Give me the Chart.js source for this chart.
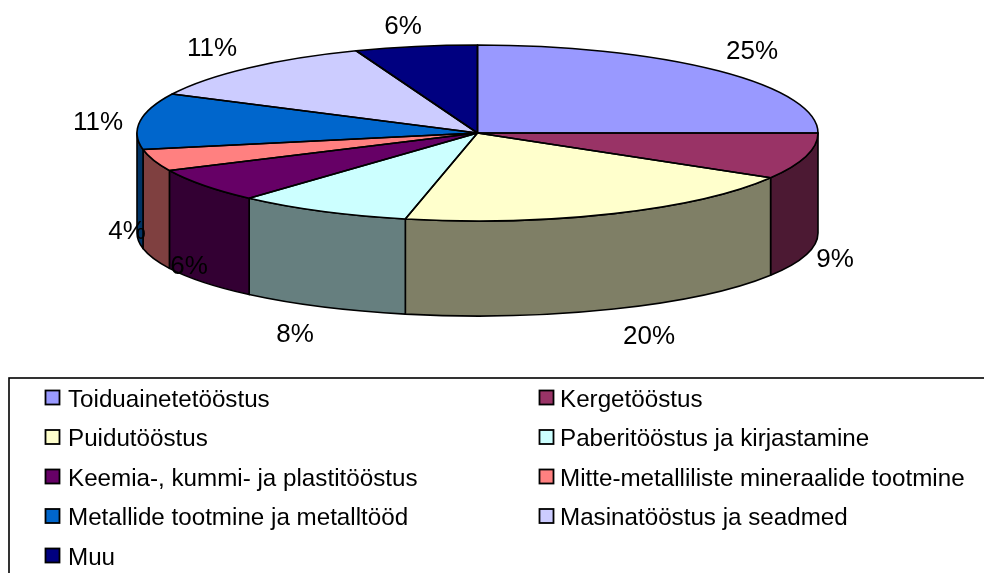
<!DOCTYPE html>
<html>
<head>
<meta charset="utf-8">
<style>html,body{margin:0;padding:0;background:#fff}canvas{display:block}</style>
<script src="https://cdn.jsdelivr.net/npm/chart.js@4/dist/chart.umd.min.js"></script>
</head>
<body>
<canvas id="c" width="984" height="573"></canvas>
<script>
const categories = ["Toiduainetetööstus","Kergetööstus","Puidutööstus","Paberitööstus ja kirjastamine","Keemia-, kummi- ja plastitööstus","Mitte-metalliliste mineraalide tootmine","Metallide tootmine ja metalltööd","Masinatööstus ja seadmed","Muu"];
const sliceValues = [25, 8.5, 19.9, 8.3, 6.3, 4, 10.3, 11.9, 5.8];
const percentLabels = ["25%","9%","20%","8%","6%","4%","11%","11%","6%"];
const sliceColors = ["#9999FF","#993366","#FFFFCC","#CCFFFF","#660066","#FF8080","#0066CC","#CCCCFF","#000080"];
const wallColors = ["#4C4C7F","#4C1933","#7F7F66","#667F7F","#330033","#7F4040","#003366","#66667F","#000040"];

const labelCentres = [[752,52],[835,260],[649,337],[295,335],[189,267],[127,232],[98,123],[212,49],[403,27]];
const FONT = '"Liberation Sans", Arial, sans-serif';
const TILT = 88 / 340.5, WALL_CY_SHIFT = 100, WALL_RY = 83;

const pie3d = {
  id: 'pie3d',
  beforeDatasetsDraw(chart) {
    const ctx = chart.ctx, arcs = chart.getDatasetMeta(0).data;
    const cx = arcs[0].x, cy = arcs[0].y, rx = arcs[0].outerRadius, ry = rx * TILT;
    const by = cy + WALL_CY_SHIFT;
    ctx.save();
    ctx.lineWidth = 1.6; ctx.strokeStyle = '#000'; ctx.lineJoin = 'round';
    arcs.forEach((a, i) => {
      const s = Math.max(a.startAngle, 0), e = Math.min(a.endAngle, Math.PI);
      if (e <= s) return;
      ctx.beginPath();
      ctx.ellipse(cx, cy, rx, ry, 0, s, e);
      ctx.ellipse(cx, by, rx, WALL_RY, 0, e, s, true);
      ctx.closePath();
      ctx.fillStyle = wallColors[i];
      ctx.fill(); ctx.stroke();
    });
    ctx.restore();
    ctx.save();
    ctx.translate(cx, cy); ctx.scale(1, TILT); ctx.translate(-cx, -cy);
  },
  afterDatasetsDraw(chart) {
    const ctx = chart.ctx, arcs = chart.getDatasetMeta(0).data;
    ctx.restore();
    const cx = arcs[0].x, cy = arcs[0].y, rx = arcs[0].outerRadius, ry = rx * TILT;
    ctx.save();
    ctx.lineWidth = 1.6; ctx.strokeStyle = '#000'; ctx.lineJoin = 'round';
    arcs.forEach(a => {
      ctx.beginPath();
      ctx.moveTo(cx, cy);
      ctx.ellipse(cx, cy, rx, ry, 0, a.startAngle, a.endAngle);
      ctx.closePath();
      ctx.stroke();
    });
    ctx.restore();
  },
  afterDraw(chart) {
    const ctx = chart.ctx;
    ctx.save();
    ctx.fillStyle = '#000';
    ctx.textAlign = 'center'; ctx.textBaseline = 'middle';
    ctx.font = '26px ' + FONT;
    percentLabels.forEach((t, i) => ctx.fillText(t, labelCentres[i][0], labelCentres[i][1]));
    // legend
    ctx.strokeStyle = '#000'; ctx.lineWidth = 1.6;
    ctx.strokeRect(9, 378, 1100, 400);
    ctx.font = '24.2px ' + FONT; ctx.textAlign = 'left'; ctx.textBaseline = 'alphabetic';
    ctx.lineWidth = 1.8;
    categories.forEach((t, i) => {
      const col = i % 2, row = Math.floor(i / 2);
      const sx = col ? 539.5 : 45.5, ty = 406.5 + row * 39.5;
      ctx.fillStyle = sliceColors[i];
      ctx.fillRect(sx, ty - 16, 14, 14);
      ctx.strokeRect(sx, ty - 16, 14, 14);
      ctx.fillStyle = '#000';
      ctx.fillText(t, col ? 560 : 68, ty);
    });
    ctx.restore();
  }
};

new Chart(document.getElementById('c'), {
  type: 'pie',
  data: { labels: categories, datasets: [{ data: sliceValues, backgroundColor: sliceColors, borderWidth: 0, clip: false }] },
  options: {
    responsive: false, animation: false, events: [],
    radius: 340.5,
    layout: { padding: { left: 0, right: 29, top: 0, bottom: 307 } },
    plugins: { legend: { display: false }, tooltip: { enabled: false } }
  },
  plugins: [pie3d]
});
</script>
</body>
</html>
